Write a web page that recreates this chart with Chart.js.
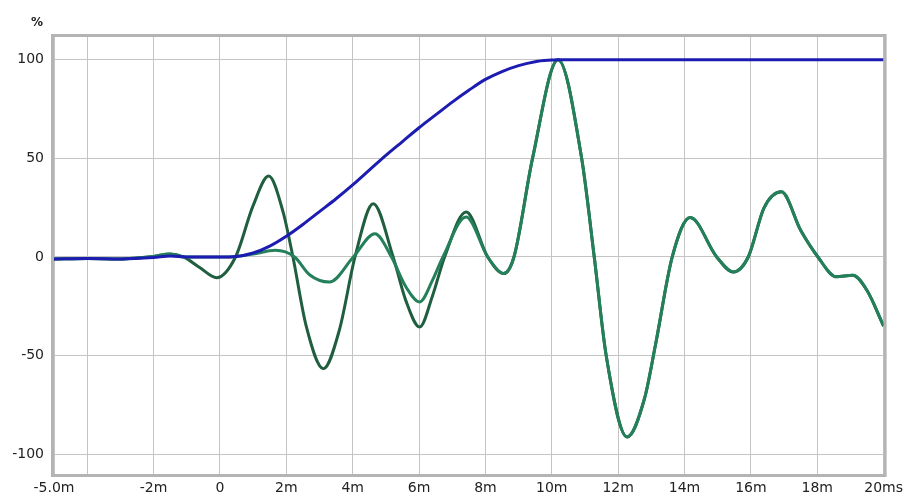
<!DOCTYPE html>
<html>
<head>
<meta charset="utf-8">
<script src="https://cdn.jsdelivr.net/npm/chart.js@4"></script>
<style>
  html, body { margin: 0; padding: 0; background: #fff; }
</style>
</head>
<body>
<canvas id="myLineChart" width="909" height="497"></canvas>
<script>
// ejes
const ticksX = [-5, -4, -2, 0, 2, 4, 6, 8, 10, 12, 14, 16, 18, 20];
const etiquetasX = ['-5.0m', '', '-2m', '0', '2m', '4m', '6m', '8m', '10m', '12m', '14m', '16m', '18m', '20ms'];
const ticksY = [-100, -50, 0, 50, 100];

// curva azul (escalon)
const tiempoAzul = [-5, -4, -3, -2, -1.5, -1, -0.5, 0, 0.5, 1, 1.5, 2, 2.5, 3, 3.5, 4, 4.5, 5, 5.5, 6, 6.5, 7, 7.5, 8, 8.5, 9, 9.5, 10, 10.2, 20];
const valorAzul = [-1, -0.8, -1, -0.3, 0.5, 0, 0, 0, 0.3, 2, 5.5, 10.5, 16.5, 23, 29.5, 36.5, 44, 51.5, 58.5, 65.5, 72, 78.5, 84.5, 90, 94, 97, 99, 99.8, 100, 100];

// verde oscuro, tramo inicial
const tiempoOscura = [-5, -4, -3, -2.5, -2, -1.5, -1.1, -0.6, -0.1, 0.47, 1.0, 1.47, 1.9, 2.2, 2.6, 3.12, 3.6, 4.07, 4.62, 5.22, 5.6, 6.02, 6.4, 6.77, 7.42];
const valorOscura = [-1, -0.8, -1, -0.5, 0.3, 1.5, 0, -5.5, -10.5, 0, 26, 41, 23, 0, -35, -56.6, -37, 0, 27, 0, -22, -35.5, -20, 0, 22.8];

// verde claro, tramo inicial
const tiempoClara = [-5, -4, -3, -2.5, -2, -1.5, -1.1, -0.5, 0, 0.5, 1.0, 1.67, 2.25, 2.7, 3.3, 4.02, 4.67, 5.17, 5.6, 6.02, 6.4, 6.72, 7.42];
const valorClara = [-1, -0.8, -1, -0.5, 0.3, 1.5, 0, 0, 0, 0.3, 1.5, 3.4, 0, -9, -12.7, 0, 11.8, 0, -15, -22.8, -12, 0, 20.3];

// tramo comun a las dos verdes
const tiempoComun = [8.07, 8.55, 8.86, 9.42, 10.19, 10.9, 11.28, 11.64, 12.27, 12.79, 13.12, 13.63, 14.17, 14.97, 15.47, 15.92, 16.4, 16.92, 17.5, 18.02, 18.57, 19.07, 19.5, 20];
const valorComun = [0, -8.4, 0, 50, 100, 50, 0, -50, -91.2, -72, -45, 0, 20, 0, -7.6, 0, 25, 33, 13.5, 0, -10, -9.3, -17, -35];

function armarPuntos(tiempos, valores) {
  return tiempos.map((t, i) => ({ x: t, y: valores[i] }));
}

const marco = {
  id: 'marco',
  afterDatasetsDraw(chart) {
    const { ctx, chartArea } = chart;
    ctx.save();
    ctx.strokeStyle = '#b4b4b4';
    ctx.lineWidth = 3;
    ctx.strokeRect(chartArea.left - 1.5, chartArea.top - 1.5, chartArea.right - chartArea.left + 3, chartArea.bottom - chartArea.top + 3);
    ctx.fillStyle = '#222';
    ctx.font = 'bold 12px "DejaVu Sans"';
    ctx.textAlign = 'center';
    ctx.textBaseline = 'middle';
    ctx.fillText('%', chartArea.left - 17, chartArea.top - 14);
    ctx.restore();
  }
};

const ctx = document.getElementById('myLineChart').getContext('2d');

new Chart(ctx, {
  type: 'line',
  data: {
    datasets: [
      {
        label: 'Oscura',
        data: armarPuntos(tiempoOscura.concat(tiempoComun), valorOscura.concat(valorComun)),
        borderColor: '#1f5e3e',
        borderWidth: 3,
        pointRadius: 0,
        cubicInterpolationMode: 'monotone',
        order: 3
      },
      {
        label: 'Clara',
        data: armarPuntos(tiempoClara.concat(tiempoComun), valorClara.concat(valorComun)),
        borderColor: '#24805a',
        borderWidth: 3,
        pointRadius: 0,
        cubicInterpolationMode: 'monotone',
        order: 2
      },
      {
        label: 'Escalon',
        data: armarPuntos(tiempoAzul, valorAzul),
        borderColor: '#1c1cb2',
        borderWidth: 3,
        pointRadius: 0,
        cubicInterpolationMode: 'monotone',
        order: 1
      }
    ]
  },
  options: {
    responsive: false,
    animation: false,
    layout: { padding: { top: 37, right: 21, left: 0, bottom: 0 } },
    scales: {
      x: {
        type: 'linear',
        min: -5,
        max: 20,
        afterBuildTicks: scale => { scale.ticks = ticksX.map(v => ({ value: v })); },
        afterFit: scale => { scale.height = 23; },
        grid: { color: '#c4c4c4', drawTicks: false },
        border: { display: false },
        ticks: {
          autoSkip: false,
          maxRotation: 0,
          padding: 6,
          color: '#222',
          font: { family: 'DejaVu Sans', size: 14 },
          callback: (valor, i) => etiquetasX[i]
        }
      },
      y: {
        min: -110,
        max: 111.5,
        afterBuildTicks: scale => { scale.ticks = ticksY.map(v => ({ value: v })); },
        afterFit: scale => { scale.width = 54; },
        grid: { color: '#c4c4c4', drawTicks: false },
        border: { display: false },
        ticks: {
          padding: 10,
          color: '#222',
          font: { family: 'DejaVu Sans', size: 14 }
        }
      }
    },
    plugins: {
      legend: { display: false },
      tooltip: { enabled: false }
    }
  },
  plugins: [marco]
});
</script>
</body>
</html>
